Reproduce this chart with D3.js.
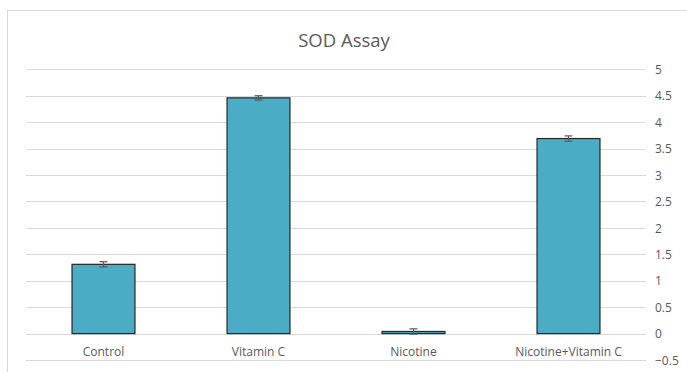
<!DOCTYPE html>
<html><head><meta charset="utf-8">
<script src="https://cdn.jsdelivr.net/npm/d3@7"></script>
<style>body{margin:0;background:#fff}svg{display:block}text{font-family:"Open Sans","Liberation Sans",sans-serif}</style>
</head><body><svg id="c" width="687" height="372"></svg>
<script>
const categories = ["Control", "Vitamin C", "Nicotine", "Nicotine+Vitamin C"];
const values = [1.31, 4.46, 0.04, 3.69];
const errors = [0.05, 0.04, 0.05, 0.05];
const yTicks = [-0.5, 0, 0.5, 1, 1.5, 2, 2.5, 3, 3.5, 4, 4.5, 5];
const title = "SOD Assay";

const svg = d3.select("#c");
svg.append("rect").attr("x",7.5).attr("y",10.5).attr("width",700).attr("height",400)
  .attr("fill","#fff").attr("stroke","#d9d9d9");

const x = d3.scaleBand().domain(categories).range([26,646]).paddingInner(0.594).paddingOuter(0.297);
const y = d3.scaleLinear().domain([-0.5,5]).range([360,69.3]);

const grid = svg.append("g");
grid.selectAll("line").data(yTicks).join("line")
  .attr("x1",26).attr("x2",646)
  .attr("y1",d=>Math.round(y(d))+0.5).attr("y2",d=>Math.round(y(d))+0.5)
  .attr("stroke","#d9d9d9").attr("stroke-width",1);

const yAxis = d3.axisRight(y).tickValues(yTicks).tickSize(0).tickPadding(9).tickFormat(d3.format("~g"));
const ya = svg.append("g").attr("transform","translate(646,0)").call(yAxis);
ya.select(".domain").remove();
ya.selectAll("text").attr("fill","#595959").style("font-size","12px").attr("dy","0.35em");

svg.append("g").selectAll("rect").data(values).join("rect")
  .attr("x",(d,i)=>x(categories[i]))
  .attr("width",x.bandwidth())
  .attr("y",d=>y(Math.max(0,d)))
  .attr("height",d=>Math.abs(y(d)-y(0)))
  .attr("fill","#4BACC6").attr("stroke","#262626").attr("stroke-width",1.2);

const eb = svg.append("g").attr("stroke","#595959").attr("stroke-width",1.2);
values.forEach((v,i)=>{
  const cx = x(categories[i]) + x.bandwidth()/2;
  eb.append("line").attr("x1",cx).attr("x2",cx).attr("y1",y(v+errors[i])).attr("y2",y(v-errors[i]));
  eb.append("line").attr("x1",cx-4).attr("x2",cx+4).attr("y1",y(v+errors[i])).attr("y2",y(v+errors[i]));
  eb.append("line").attr("x1",cx-4).attr("x2",cx+4).attr("y1",y(v-errors[i])).attr("y2",y(v-errors[i]));
});

const xAxis = d3.axisBottom(x).tickSize(0).tickPadding(0);
const xa = svg.append("g").attr("transform","translate(0,345)").call(xAxis);
xa.select(".domain").remove();
xa.selectAll("text").attr("fill","#595959").style("font-size","12px").attr("dy","0.35em").attr("y",7);

svg.append("text").attr("x",344).attr("y",47).attr("text-anchor","middle")
  .attr("fill","#595959").style("font-size","18.5px").text(title);
</script></body></html>
